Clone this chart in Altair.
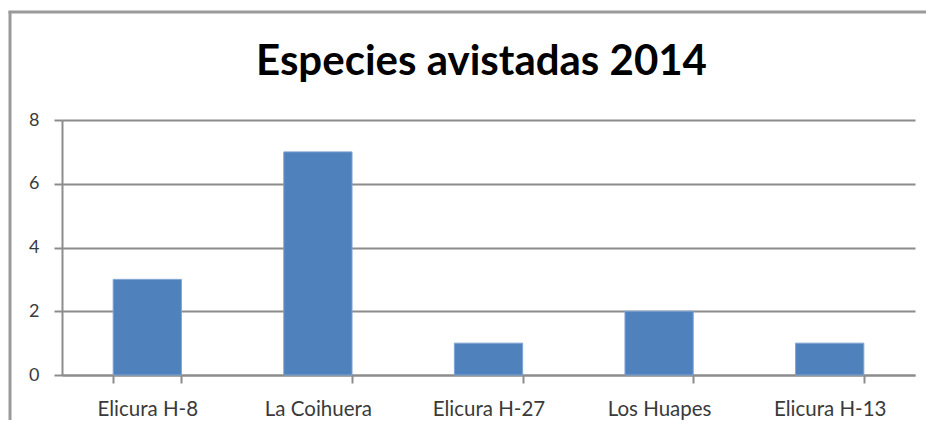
import altair as alt
import pandas as pd

categories = ["Elicura H-8", "La Coihuera", "Elicura H-27", "Los Huapes", "Elicura H-13"]
values = [3, 7, 1, 2, 1]
title_text = "Especies avistadas 2014"

df = pd.DataFrame({"sitio": categories, "especies": values})

W, H = 853, 255

bars = alt.Chart(df).mark_bar(color="#4F81BD", stroke="#7FA3D3", strokeWidth=1).encode(
    x=alt.X("sitio:N", sort=categories, title=None,
            scale=alt.Scale(paddingInner=0.6, paddingOuter=0.3),
            axis=alt.Axis(labelAngle=0, tickBand="extent", tickExtra=True,
                          tickSize=8, labelPadding=16, labelFontSize=20.5,
                          labelFont="Lato", labelColor="#3a3a3a",
                          domainColor="#8c8c8c", tickColor="#8c8c8c",
                          domainWidth=2, tickWidth=2, grid=False)),
    y=alt.Y("especies:Q", title=None,
            scale=alt.Scale(domain=[0, 8], nice=False),
            axis=alt.Axis(values=[0, 2, 4, 6, 8], tickSize=8, labelPadding=15,
                          labelFontSize=18, labelFont="Lato", labelColor="#3a3a3a",
                          domainColor="#8c8c8c", tickColor="#8c8c8c",
                          domainWidth=2, tickWidth=2,
                          grid=True, gridColor="#8c8c8c", gridWidth=2)),
)

one = pd.DataFrame({"t": [title_text]})

border_left = alt.Chart(one).mark_rule(color="#9a9a9a", strokeWidth=3).encode(
    x=alt.value(-52), y=alt.value(-109), y2=alt.value(H + 45),
)
border_top = alt.Chart(one).mark_rule(color="#9a9a9a", strokeWidth=3).encode(
    y=alt.value(-108), x=alt.value(-53.5), x2=alt.value(W + 11),
)

title = alt.Chart(one).mark_text(
    font="Lato", fontSize=42, fontWeight="bold", color="#000000",
    align="center", baseline="alphabetic"
).encode(
    text="t:N", x=alt.value(W / 2 - 7), y=alt.value(-45),
)

chart = alt.layer(border_left, border_top, bars, title).properties(
    width=W, height=H,
    autosize=alt.AutoSizeParams(type="none"),
    padding={"left": 54, "top": 112, "right": 11, "bottom": 45},
).configure_view(stroke=None)

chart.save("out.html", embed_options={"renderer": "svg", "actions": False})
